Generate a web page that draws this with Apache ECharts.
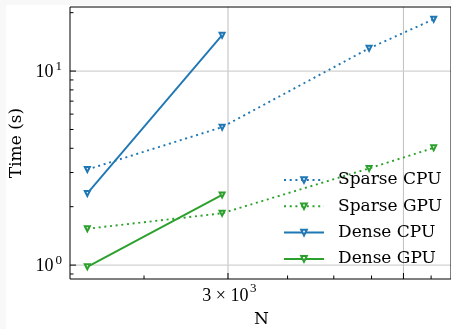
<!DOCTYPE html>
<html>
<head>
<meta charset="utf-8">
<script src="https://cdn.jsdelivr.net/npm/echarts@6/dist/echarts.min.js"></script>
<style>
  html, body { margin: 0; padding: 0; background: #f8f8f8; }
  #chart { position: absolute; left: 6px; top: 5px; width: 445px; height: 324px; background: #fff; }
</style>
</head>
<body>
<div id="chart"></div>
<script>
// problem sizes and timings (seconds)
const nValues = [1521, 2916, 5929, 8100];
const sparseCpu = [3.11, 5.14, 13.1, 18.5];
const sparseGpu = [1.54, 1.85, 3.15, 4.02];
const denseCpu = [2.34, 15.3];
const denseGpu = [0.98, 2.30];

// axis ranges and ticks
const xRange = [1399, 8806];
const yRange = [0.848, 21.39];
const xMajorTicks = [3000, 7000];
const xMinorTicks = [2000, 4000, 5000, 6000, 8000];
const yMajorTicks = [1, 10];
const yMinorTicks = [0.9, 2, 3, 4, 5, 6, 7, 8, 9, 20];
const xLabelValues = [3000];
const xLabelBase = ['3 × 10'];
const xLabelExp = ['3'];
const yLabelValues = [1, 10];
const yLabelExp = ['0', '1'];

const BLUE = '#1f77b4';
const GREEN = '#2ca02c';
const SERIF = 'DejaVu Serif';
const NUM_FONT = 'Liberation Serif';

const chart = echarts.init(document.getElementById('chart'));

function lineSeries(name, xs, ys, color, dotted) {
  return {
    name,
    type: 'line',
    data: ys.map((y, i) => [xs[i], y]),
    symbol: 'emptyTriangle',
    symbolRotate: 180,
    symbolSize: 5,
    z: 3,
    itemStyle: { color, borderColor: color, borderWidth: 1 },
    lineStyle: {
      color,
      width: 1.9,
      type: dotted ? [2, 3.7] : 'solid',
      cap: 'butt'
    },
    emphasis: { disabled: true }
  };
}

function seg(x1, y1, x2, y2, stroke, lineWidth) {
  return { type: 'line', shape: { x1, y1, x2, y2 }, style: { stroke, lineWidth } };
}

// vertical gridlines + ticks along the bottom axis
function xDecor(values, tickLen, withGrid) {
  return {
    type: 'custom',
    silent: true,
    z: withGrid ? 1 : 6,
    data: values.map(v => [v, yRange[0]]),
    renderItem: (params, api) => {
      const v = api.value(0);
      const b = api.coord([v, yRange[0]]);
      const t = api.coord([v, yRange[1]]);
      const children = [];
      if (withGrid) children.push(seg(b[0], b[1], t[0], t[1], '#c4c4c4', 1.1));
      children.push(seg(b[0], b[1], b[0], b[1] - tickLen, '#000', 1));
      return { type: 'group', children };
    }
  };
}

// horizontal gridlines + ticks along the left axis
function yDecor(values, tickLen, withGrid) {
  return {
    type: 'custom',
    silent: true,
    z: withGrid ? 1 : 6,
    data: values.map(v => [xRange[0], v]),
    renderItem: (params, api) => {
      const v = api.value(1);
      const l = api.coord([xRange[0], v]);
      const r = api.coord([xRange[1], v]);
      const children = [];
      if (withGrid) children.push(seg(l[0], l[1], r[0], r[1], '#d2d2d2', 1.3));
      children.push(seg(l[0], l[1], l[0] + tickLen, l[1], '#000', 1));
      return { type: 'group', children };
    }
  };
}

const xLabels = {
  type: 'custom',
  silent: true,
  z: 6,
  data: xLabelValues.map(v => [v, yRange[0]]),
  renderItem: (params, api) => {
    const p = api.coord([api.value(0), yRange[0]]);
    const i = params.dataIndex;
    return {
      type: 'group',
      children: [
        { type: 'text', x: p[0] + 20.5, y: p[1] + 17,
          style: { text: xLabelBase[i], fontFamily: NUM_FONT, fontSize: 18, fill: '#000', align: 'right', verticalAlign: 'middle' } },
        { type: 'text', x: p[0] + 28.5, y: p[1] + 9.5,
          style: { text: xLabelExp[i], fontFamily: NUM_FONT, fontSize: 13, fill: '#000', align: 'right', verticalAlign: 'middle' } }
      ]
    };
  }
};

const yLabels = {
  type: 'custom',
  silent: true,
  z: 6,
  data: yLabelValues.map(v => [xRange[0], v]),
  renderItem: (params, api) => {
    const p = api.coord([xRange[0], api.value(1)]);
    const i = params.dataIndex;
    return {
      type: 'group',
      children: [
        { type: 'text', x: p[0] - 16.5, y: p[1] + 1.5,
          style: { text: '10', fontFamily: NUM_FONT, fontSize: 18, fill: '#000', align: 'right', verticalAlign: 'middle' } },
        { type: 'text', x: p[0] - 8, y: p[1] - 4.5,
          style: { text: yLabelExp[i], fontFamily: NUM_FONT, fontSize: 13, fill: '#000', align: 'right', verticalAlign: 'middle' } }
      ]
    };
  }
};

chart.setOption({
  animation: false,
  grid: {
    left: 64, top: 2, right: -2, bottom: 50,
    show: true, borderColor: '#000', borderWidth: 1, backgroundColor: 'transparent', z: 10
  },
  xAxis: {
    type: 'log', min: xRange[0], max: xRange[1],
    axisLine: { show: false }, axisTick: { show: false },
    axisLabel: { show: false }, splitLine: { show: false }
  },
  yAxis: {
    type: 'log', min: yRange[0], max: yRange[1],
    axisLine: { show: false }, axisTick: { show: false },
    axisLabel: { show: false }, splitLine: { show: false }
  },
  legend: {
    orient: 'vertical',
    left: 277,
    top: 165,
    padding: 0,
    itemWidth: 40,
    itemHeight: 7,
    itemGap: 6.3,
    data: ['Sparse CPU', 'Sparse GPU', 'Dense CPU', 'Dense GPU'],
    textStyle: { fontFamily: SERIF, fontSize: 17, color: '#000', lineHeight: 20, padding: [0, 0, 0, 9] }
  },
  graphic: [
    { type: 'text', x: 10.5, y: 138, rotation: Math.PI / 2,
      style: { text: 'Time (s)', fontFamily: SERIF, fontSize: 17, fill: '#000', align: 'center', verticalAlign: 'middle' } },
    { type: 'text', x: 255.5, y: 315,
      style: { text: 'N', fontFamily: SERIF, fontSize: 17, fill: '#000', align: 'center', verticalAlign: 'middle' } }
  ],
  series: [
    xDecor(xMajorTicks, 6, true),
    xDecor(xMinorTicks, 3.5, false),
    yDecor(yMajorTicks, 6, true),
    yDecor(yMinorTicks, 3.5, false),
    xLabels,
    yLabels,
    lineSeries('Sparse CPU', nValues, sparseCpu, BLUE, true),
    lineSeries('Sparse GPU', nValues, sparseGpu, GREEN, true),
    lineSeries('Dense CPU', nValues, denseCpu, BLUE, false),
    lineSeries('Dense GPU', nValues, denseGpu, GREEN, false)
  ]
});
</script>
</body>
</html>
